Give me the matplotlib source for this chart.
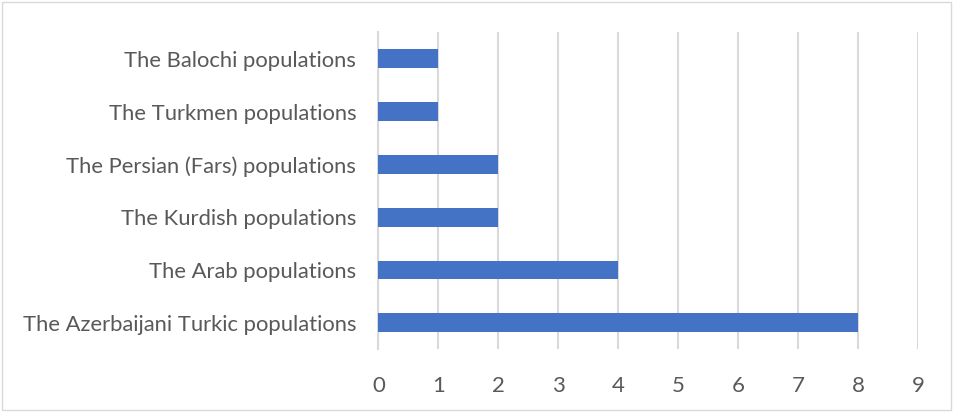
import matplotlib
matplotlib.use('Agg')
import matplotlib.pyplot as plt
from matplotlib.patches import Rectangle

# Population groups and counts
groups = ['The Azerbaijani Turkic populations', 'The Arab populations',
          'The Kurdish populations', 'The Persian (Fars) populations',
          'The Turkmen populations', 'The Balochi populations']
counts = [8, 4, 2, 2, 1, 1]

plt.rcParams['font.family'] = ['Lato', 'DejaVu Sans']
text_color = '#595959'
grid_color = '#D9D9D9'

fig = plt.figure(figsize=(9.54, 4.12), dpi=100)
ax = fig.add_axes([0.3966, 0.1522, 0.5660, 0.7694])

ax.barh(range(len(groups)), counts, height=0.355, color='#4472C4', zorder=3)
ax.set_ylim(-0.5, len(groups) - 0.5)
ax.set_xlim(0, 9)
ax.set_xticks(range(10))
ax.set_yticks(range(len(groups)))
ax.set_yticklabels(groups)

ax.grid(axis='x', color=grid_color, linewidth=1.5, zorder=0)
for side in ['top', 'right', 'bottom']:
    ax.spines[side].set_visible(False)
ax.spines['left'].set_color(grid_color)
ax.spines['left'].set_linewidth(1.5)

ax.tick_params(axis='both', length=0, labelcolor=text_color)
ax.tick_params(axis='y', pad=16, labelsize=15.8)
ax.tick_params(axis='x', pad=19, labelsize=16)

# Chart frame
fig.patches.append(Rectangle((0.002, 0.005), 0.995, 0.99, transform=fig.transFigure,
                             fill=False, edgecolor=grid_color, linewidth=1))

fig.savefig('out.png', dpi=100)
